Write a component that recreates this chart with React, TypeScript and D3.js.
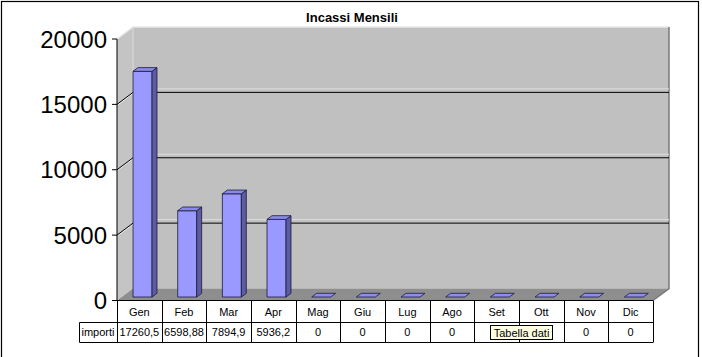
import React from "react";
import * as d3 from "d3";

const months = ["Gen", "Feb", "Mar", "Apr", "Mag", "Giu", "Lug", "Ago", "Set", "Ott", "Nov", "Dic"];
const values = [17260.5, 6598.88, 7894.9, 5936.2, 0, 0, 0, 0, 0, 0, 0, 0];
const valueLabels = ["17260,5", "6598,88", "7894,9", "5936,2", "0", "0", "0", "0", "0", "0", "0", "0"];
const yTicks = [0, 5000, 10000, 15000, 20000];
const seriesName = "importi";
const title = "Incassi Mensili";
const tooltipText = "Tabella dati";

const W = 702;
const H = 357;
const DX = 16;
const DY = -12;

export default function App() {
  const y = d3.scaleLinear().domain([0, 20000]).range([300.5, 39]);
  const x = d3.scaleBand<string>().domain(months).range([117, 653]).padding(0);
  const bw = x.bandwidth();
  const P = (px: number, v: number, d: number): [number, number] => [px + DX * d, y(v) + DY * d];
  const poly = (pts: [number, number][]) => pts.map((p) => p.join(",")).join(" ");
  const line = d3.line();

  const y0 = y(0);
  const yTop = y(20000);
  const xL = 117;
  const xR = 653;

  const d0 = 0.29;
  const d1 = 0.6;
  const barOff = bw * 0.255;
  const barW = 19;

  const row1Top = 300.5;
  const row1Bot = 322.5;
  const row2Bot = 342.5;
  const hdrLeft = 79.5;

  const tipX0 = 490.5;
  const tipW = 62;

  return (
    <svg width={W} height={H} style={{ position: "absolute", left: 0, top: 0, background: "#fff" }}
      fontFamily="'Liberation Sans', Arial, sans-serif">
      <rect x={1.5} y={1.5} width={697} height={H + 10} fill="#fff" stroke="#000" strokeWidth={1.2} />
      <text x={352} y={21.5} textAnchor="middle" fontSize={13} fontWeight="bold">{title}</text>

      {/* left wall */}
      <polygon points={poly([P(xL, 0, 0), P(xL, 0, 1), P(xL, 20000, 1), P(xL, 20000, 0)])} fill="#c4c4c4" />
      {/* back wall */}
      <polygon points={poly([P(xL, 0, 1), P(xR, 0, 1), P(xR, 20000, 1), P(xL, 20000, 1)])} fill="#c0c0c0" />
      {/* floor */}
      <polygon points={poly([P(xL, 0, 0), P(xR, 0, 0), P(xR, 0, 1), P(xL, 0, 1)])} fill="#8e8e8e" />
      {/* wall edges */}
      <path d={line([P(xL, 20000, 0), P(xL, 20000, 1), P(xR, 20000, 1)]) || ""} fill="none" stroke="#e8e8e8" strokeWidth={1.5} />
      <path d={line([P(xL, 20000, 1), P(xL, 0, 1)]) || ""} fill="none" stroke="#dcdcdc" strokeWidth={1} />
      <path d={line([P(xR, 20000, 1), P(xR, 0, 1), P(xR, 0, 0)]) || ""} fill="none" stroke="#7a7a7a" strokeWidth={1.5} />

      {/* gridlines */}
      {yTicks.filter((t) => t > 0 && t < 20000).map((t) => (
        <g key={t}>
          <path d={line([P(xL, t, 0), P(xL, t, 1)]) || ""} stroke="#f0f0f0" strokeWidth={1} transform="translate(0,1)" />
          <path d={line([P(xL, t, 0), P(xL, t, 1), P(xR, t, 1)]) || ""} fill="none" stroke="#000" strokeWidth={1} />
          <path d={line([P(xL, t, 1), P(xR, t, 1)]) || ""} stroke="#dedede" strokeWidth={1} transform="translate(0,-3.5)" />
        </g>
      ))}

      {/* bars */}
      {months.map((m, i) => {
        const v = values[i];
        const a = (x(m) as number) + barOff;
        const b = a + barW;
        return (
          <g key={m} stroke="#1a1a3a" strokeWidth={0.8} strokeLinejoin="round">
            {v > 0 && (
              <>
                <polygon points={poly([P(a, 0, d0), P(b, 0, d0), P(b, v, d0), P(a, v, d0)])} fill="#9999ff" />
                <polygon points={poly([P(b, 0, d0), P(b, 0, d1), P(b, v, d1), P(b, v, d0)])} fill="#5c5ca3" />
              </>
            )}
            <polygon points={poly([P(a, v, d0), P(b, v, d0), P(b, v, d1), P(a, v, d1)])} fill={v > 0 ? "#8a8ae6" : "#8d8df0"} />
          </g>
        );
      })}

      {/* y axis */}
      <line x1={xL} x2={xL} y1={yTop} y2={y0} stroke="#000" strokeWidth={1} />
      {yTicks.map((t) => (
        <g key={t}>
          <line x1={xL - 5} x2={xL} y1={y(t)} y2={y(t)} stroke="#000" strokeWidth={1} />
          <text x={107} y={y(t) + 8.5} textAnchor="end" fontSize={24} fill="#000">{t}</text>
        </g>
      ))}

      {/* data table */}
      <g stroke="#000" strokeWidth={1} fill="none">
        <line x1={xL} x2={xR} y1={row1Top} y2={row1Top} />
        <line x1={hdrLeft} x2={xR} y1={row1Bot} y2={row1Bot} />
        <line x1={hdrLeft} x2={xR} y1={row2Bot} y2={row2Bot} />
        <line x1={hdrLeft} x2={hdrLeft} y1={row1Bot} y2={row2Bot} />
        {months.map((m) => (
          <line key={m} x1={Math.round(x(m) as number) + 0.5} x2={Math.round(x(m) as number) + 0.5} y1={row1Top} y2={row2Bot} />
        ))}
        <line x1={xR + 0.5} x2={xR + 0.5} y1={row1Top} y2={row2Bot} />
      </g>
      {months.map((m, i) => {
        const cx = (x(m) as number) + bw / 2;
        const hidden = cx > tipX0 - 5 && cx < tipX0 + tipW + 5;
        return (
          <g key={m} fontSize={11} textAnchor="middle" fill="#000">
            <text x={cx} y={316}>{m}</text>
            {!hidden && <text x={cx} y={336}>{valueLabels[i]}</text>}
          </g>
        );
      })}
      <text x={98} y={336} fontSize={11} textAnchor="middle">{seriesName}</text>

      {/* tooltip */}
      <rect x={tipX0} y={325.5} width={tipW} height={14} fill="#ffffe1" stroke="#000" strokeWidth={1} />
      <text x={tipX0 + tipW / 2} y={336.5} fontSize={11} textAnchor="middle">{tooltipText}</text>
    </svg>
  );
}
